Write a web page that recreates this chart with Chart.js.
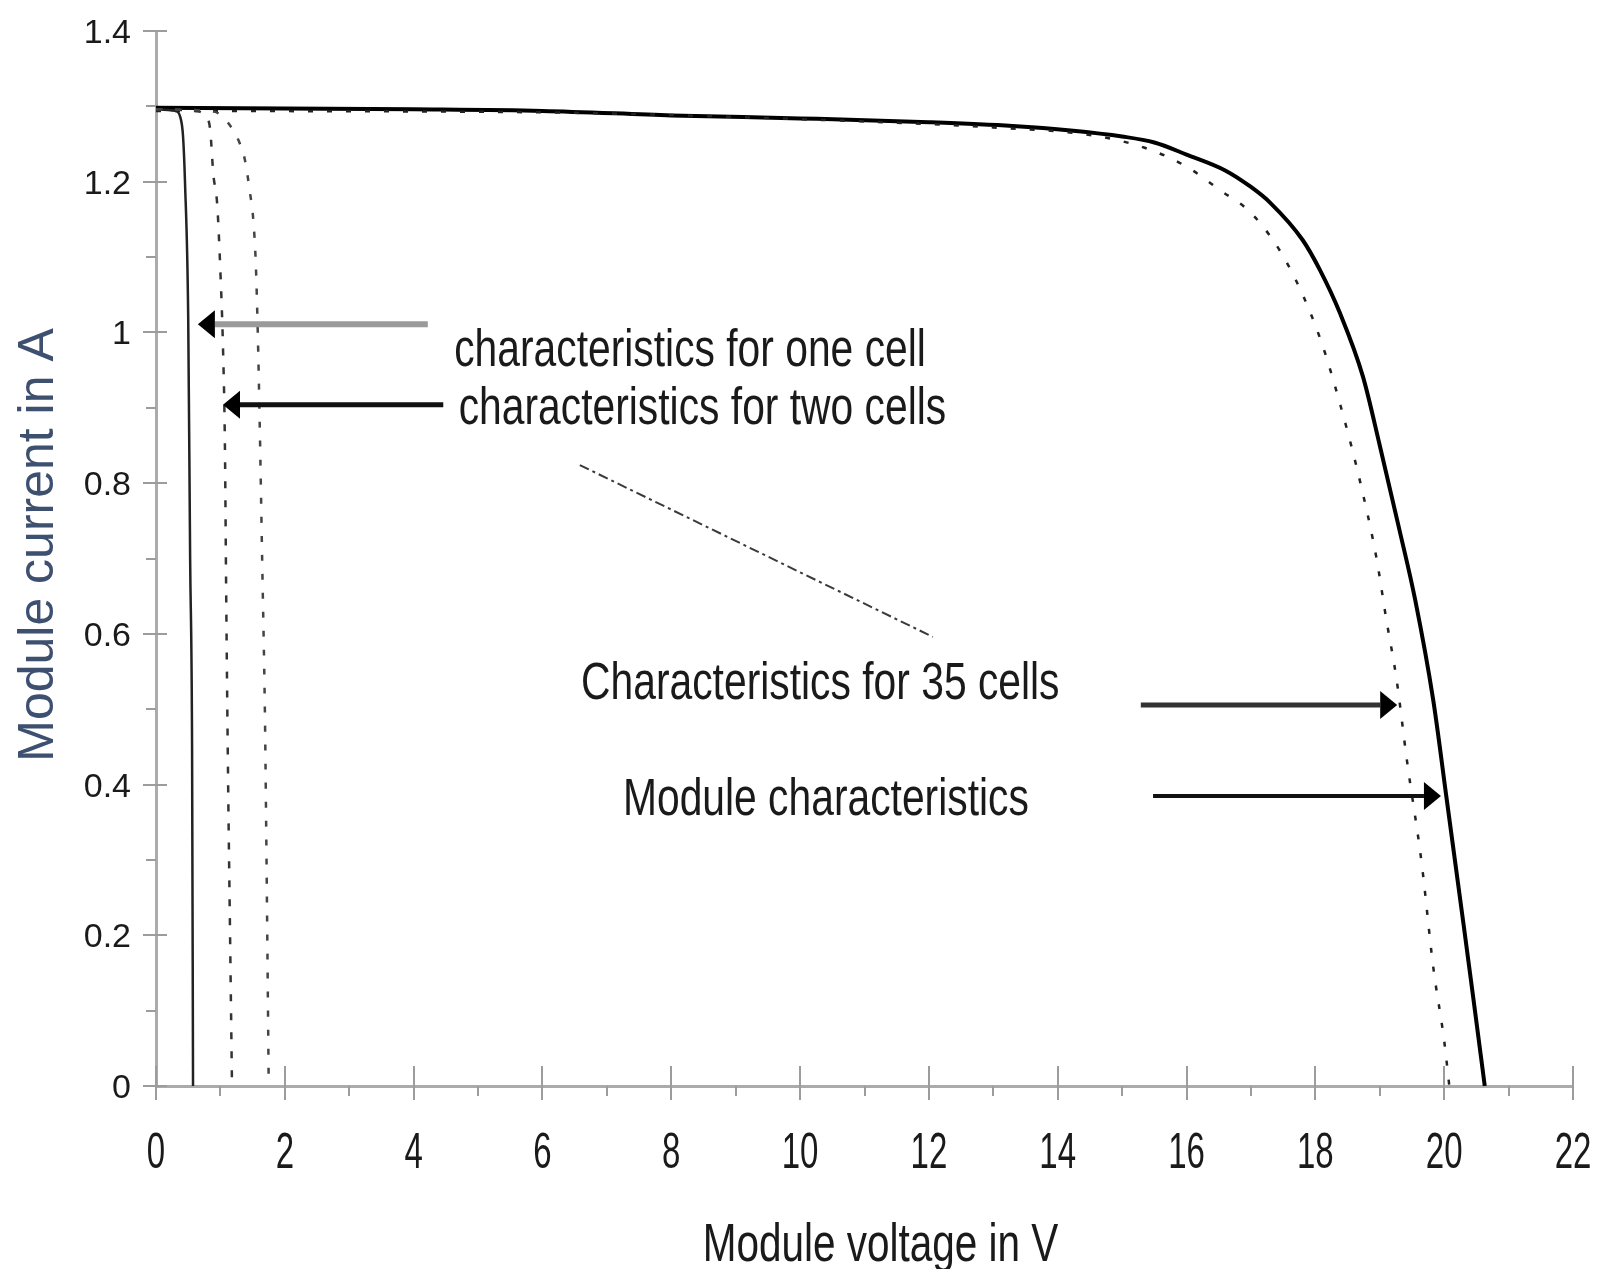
<!DOCTYPE html>
<html>
<head>
<meta charset="utf-8">
<title>Module I-V characteristics</title>
<script src="https://cdn.jsdelivr.net/npm/chart.js@4.4.1/dist/chart.umd.min.js"></script>
<style>
  html, body { margin:0; padding:0; background:#fff; }
  #wrap { width:1607px; height:1269px; }
</style>
</head>
<body>
<div id="wrap"><canvas id="ivChart" width="1607" height="1269"></canvas></div>
<script>
// values: voltage in V, current in A
const oneCellV = [0, 0.30, 0.38, 0.42, 0.45, 0.50, 0.53, 0.56, 0.575];
const oneCellI = [1.296, 1.294, 1.285, 1.26, 1.20, 1.02, 0.70, 0.45, 0];

const twoCellV = [0, 0.60, 0.78, 0.84, 0.89, 0.95, 1.00, 1.04, 1.07, 1.09, 1.12, 1.15, 1.18];
const twoCellI = [1.296, 1.294, 1.285, 1.27, 1.21, 1.17, 1.08, 0.98, 0.85, 0.65, 0.40, 0.20, 0];

const threeCellV = [0, 0.90, 1.05, 1.20, 1.30, 1.38, 1.46, 1.51, 1.55, 1.58, 1.61, 1.65, 1.69, 1.71, 1.73, 1.75];
const threeCellI = [1.296, 1.293, 1.285, 1.268, 1.251, 1.229, 1.185, 1.15, 1.09, 1.00, 0.88, 0.69, 0.50, 0.35, 0.18, 0];

const cells35V = [0, 6, 10, 13, 14.5, 15.35, 16, 16.5, 17.03, 17.58, 18.07, 18.4, 18.7, 18.95, 19.1, 19.26, 19.42, 19.65, 19.83, 20.0, 20.08];
const cells35I = [1.294, 1.292, 1.283, 1.272, 1.262, 1.245, 1.22, 1.19, 1.156, 1.089, 0.993, 0.90, 0.80, 0.70, 0.62, 0.54, 0.433, 0.296, 0.158, 0.06, 0];

const moduleV = [0, 4, 6, 8, 10, 12, 13.3, 14.2, 15, 15.5, 16, 16.6, 17, 17.3, 17.8, 18.07, 18.38, 18.74, 19.0, 19.3, 19.55, 19.83, 20.04, 20.3, 20.45, 20.63];
const moduleI = [1.298, 1.296, 1.294, 1.288, 1.284, 1.279, 1.274, 1.268, 1.26, 1.252, 1.236, 1.215, 1.193, 1.172, 1.123, 1.083, 1.026, 0.941, 0.85, 0.74, 0.645, 0.512, 0.38, 0.215, 0.118, 0];

const leaderV = [6.58, 12.06];
const leaderI = [0.824, 0.596];

const xTickValues = [0, 2, 4, 6, 8, 10, 12, 14, 16, 18, 20, 22];
const xTickLabels = ['0', '2', '4', '6', '8', '10', '12', '14', '16', '18', '20', '22'];
const xMinorTicks = [1, 3, 5, 7, 9, 11, 13, 15, 17, 19, 21];
const yTickValues = [0, 0.2, 0.4, 0.6, 0.8, 1, 1.2, 1.4];
const yTickLabels = ['0', '0.2', '0.4', '0.6', '0.8', '1', '1.2', '1.4'];
const yMinorTicks = [0.1, 0.3, 0.5, 0.7, 0.9, 1.1, 1.3];

const xTitle = 'Module voltage in V';
const yTitle = 'Module current in A';

// text notes and arrows, anchored in data units
const notes = [
  { text: 'characteristics for one cell', v: 4.63, i: 0.955 },
  { text: 'characteristics for two cells', v: 4.70, i: 0.878 },
  { text: 'Characteristics for 35 cells', v: 6.60, i: 0.514 },
  { text: 'Module characteristics', v: 7.25, i: 0.360 }
];
const arrows = [
  { from: [4.22, 1.011], to: [0.65, 1.011], shaft: '#9a9a9a', w: 6 },
  { from: [4.46, 0.904], to: [1.04, 0.904], shaft: '#111', w: 5 },
  { from: [15.29, 0.5056], to: [19.27, 0.5056], shaft: '#333', w: 5 },
  { from: [15.48, 0.3848], to: [19.95, 0.3848], shaft: '#111', w: 4 }
];

const FONT = '"Liberation Sans", Arial, sans-serif';

function pts(vs, is){ return vs.map((v, k) => ({ x: v, y: is[k] })); }

function squeezed(ctx, str, x, y, size, k, align){
  ctx.save();
  ctx.translate(x, y);
  ctx.scale(k, 1);
  ctx.font = `${size}px ${FONT}`;
  ctx.textAlign = align;
  ctx.textBaseline = 'alphabetic';
  ctx.fillText(str, 0, 0);
  ctx.restore();
}

const decor = {
  id: 'decor',
  beforeDatasetsDraw(chart){
    const { ctx, chartArea: a, scales: { x, y } } = chart;
    ctx.save();
    ctx.strokeStyle = '#9c9c9c';
    ctx.lineWidth = 2;
    const seg = (x1, y1, x2, y2) => { ctx.beginPath(); ctx.moveTo(x1, y1); ctx.lineTo(x2, y2); ctx.stroke(); };
    xTickValues.forEach(v => { const p = Math.round(x.getPixelForValue(v)); seg(p, a.bottom - 20, p, a.bottom + 14); });
    xMinorTicks.forEach(v => { const p = Math.round(x.getPixelForValue(v)); seg(p, a.bottom, p, a.bottom + 10); });
    yTickValues.forEach(v => { const p = Math.round(y.getPixelForValue(v)); seg(a.left - 13, p, a.left + 11, p); });
    yMinorTicks.forEach(v => { const p = Math.round(y.getPixelForValue(v)); seg(a.left - 10, p, a.left, p); });
    ctx.restore();
  },
  afterDraw(chart){
    const { ctx, chartArea: a, scales: { x, y } } = chart;
    ctx.save();
    ctx.fillStyle = '#1a1a1a';
    // tick labels
    xTickValues.forEach((v, k) => squeezed(ctx, xTickLabels[k], x.getPixelForValue(v), 1168, 50, 0.66, 'center'));
    yTickValues.forEach((v, k) => squeezed(ctx, yTickLabels[k], 131, y.getPixelForValue(v) + 12, 34, 1, 'right'));
    // axis titles
    squeezed(ctx, xTitle, (a.left + a.right) / 2 + 16, 1261, 54, 0.75, 'center');
    ctx.save();
    ctx.translate(53, 545);
    ctx.rotate(-Math.PI / 2);
    ctx.fillStyle = '#3e5070';
    ctx.font = `50px ${FONT}`;
    ctx.textAlign = 'center';
    ctx.fillText(yTitle, 0, 0);
    ctx.restore();
    // notes
    notes.forEach(n => squeezed(ctx, n.text, x.getPixelForValue(n.v), y.getPixelForValue(n.i), 51, 0.8, 'left'));
    // arrows
    arrows.forEach(ar => {
      const x1 = x.getPixelForValue(ar.from[0]), x2 = x.getPixelForValue(ar.to[0]);
      const py = y.getPixelForValue(ar.to[1]);
      const dir = Math.sign(x2 - x1), head = 17, half = 14;
      ctx.strokeStyle = ar.shaft;
      ctx.lineWidth = ar.w;
      ctx.beginPath();
      ctx.moveTo(x1, py);
      ctx.lineTo(x2 - dir * head, py);
      ctx.stroke();
      ctx.fillStyle = '#000';
      ctx.beginPath();
      ctx.moveTo(x2, py);
      ctx.lineTo(x2 - dir * head, py - half);
      ctx.lineTo(x2 - dir * head, py + half);
      ctx.closePath();
      ctx.fill();
    });
    ctx.restore();
  }
};

const line = (vs, is, color, width, dash) => ({
  data: pts(vs, is),
  borderColor: color,
  borderWidth: width,
  borderDash: dash || [],
  pointRadius: 0,
  fill: false,
  cubicInterpolationMode: 'monotone'
});

new Chart(document.getElementById('ivChart'), {
  type: 'line',
  data: {
    datasets: [
      line(leaderV, leaderI, '#3a3a3a', 2, [10, 4, 3, 4]),
      line(threeCellV, threeCellI, '#444', 2.5, [6, 13]),
      line(twoCellV, twoCellI, '#333', 2.5, [7, 12]),
      line(oneCellV, oneCellI, '#222', 2.5),
      line(cells35V, cells35I, '#222', 2.5, [5, 14]),
      line(moduleV, moduleI, '#000', 4)
    ]
  },
  options: {
    responsive: false,
    animation: false,
    devicePixelRatio: 1,
    layout: { padding: { top: 31, right: 34, left: 0, bottom: 0 } },
    plugins: { legend: { display: false }, tooltip: { enabled: false } },
    scales: {
      x: {
        type: 'linear', min: 0, max: 22,
        afterFit(s){ s.height = 183; },
        ticks: { display: false, stepSize: 2 },
        grid: { display: false },
        border: { display: true, color: '#ababab', width: 3 }
      },
      y: {
        type: 'linear', min: 0, max: 1.4,
        afterFit(s){ s.width = 156; },
        ticks: { display: false, stepSize: 0.2 },
        grid: { display: false },
        border: { display: true, color: '#ababab', width: 3 }
      }
    }
  },
  plugins: [decor]
});
</script>
</body>
</html>
